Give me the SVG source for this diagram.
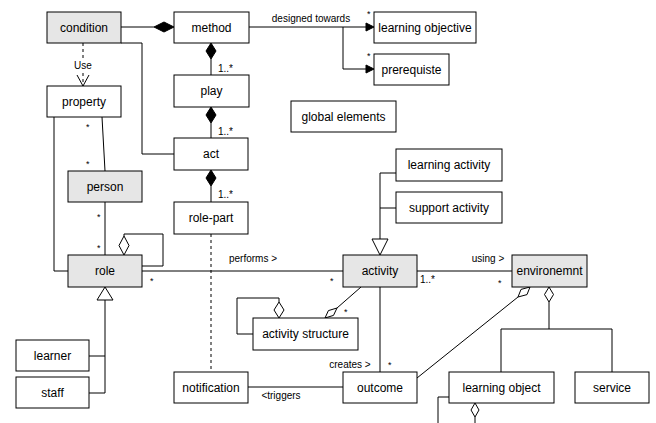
<svg xmlns="http://www.w3.org/2000/svg" width="656" height="423" viewBox="0 0 656 423">
<style>
.n rect{stroke:#000;stroke-width:1;fill:#fff}
.n.g rect{fill:#e6e6e6}
.n text{font-family:"Liberation Sans",Arial,sans-serif;font-size:12px;text-anchor:middle;fill:#000}
.c path,.c line,.c polyline{stroke:#000;stroke-width:1;fill:none}
.c .d{stroke-dasharray:3,3}
.c .fd{fill:#000}
.c .od{fill:#fff}
.c .tri{fill:#fff}
.l{font-family:"Liberation Sans",Arial,sans-serif;font-size:10px;fill:#000}
.m{font-family:"Liberation Sans",Arial,sans-serif;font-size:9px;fill:#000}
</style>
<rect width="656" height="423" fill="#fff"/>
<g class="c" id="connectors">
<!-- condition - method -->
<line x1="121" y1="27" x2="154" y2="27"/>
<path class="fd" d="M154,27 L164,22 L174,27 L164,32 Z"/>
<!-- condition - act -->
<polyline points="121,43 142,43 142,154 174,154"/>
<!-- condition Use property -->
<line class="d" x1="83" y1="43" x2="83" y2="86"/>
<polyline points="77,75 83,86 89,75"/>
<!-- property - role -->
<polyline points="54,117 54,271 68,271"/>
<!-- property - person -->
<line x1="102" y1="117" x2="105" y2="171"/>
<!-- person - role -->
<line x1="105" y1="202" x2="105" y2="255"/>
<!-- role self aggregation -->
<polyline points="142,266 163,266 163,234 124,234 124,236"/>
<path class="od" d="M124,255 L119,245.5 L124,236 L129,245.5 Z"/>
<!-- role generalization -->
<polyline points="89,356 105,356"/>
<polyline points="89,393 105,393 105,300"/>
<path class="tri" d="M105,287 L97,300 L113,300 Z"/>
<!-- method - play -->
<path class="fd" d="M211,43 L206,51 L211,59 L216,51 Z"/>
<line x1="211" y1="59" x2="211" y2="75"/>
<!-- play - act -->
<path class="fd" d="M211,107 L206,115 L211,123 L216,115 Z"/>
<line x1="211" y1="123" x2="211" y2="138"/>
<!-- act - role-part -->
<path class="fd" d="M211,170 L206,178 L211,186 L216,178 Z"/>
<line x1="211" y1="186" x2="211" y2="202"/>
<!-- role-part - notification -->
<line class="d" x1="211" y1="234" x2="211" y2="372"/>
<!-- method - learning objective / prerequisite -->
<line x1="249" y1="27" x2="367" y2="27"/>
<path class="fd" d="M374,27 L366,23 L366,31 Z"/>
<polyline points="343,27 343,69 367,69"/>
<path class="fd" d="M374,69 L366,65 L366,73 Z"/>
<!-- role - activity -->
<line x1="142" y1="271" x2="343" y2="271"/>
<!-- activity generalization -->
<polyline points="396,173 380,173 380,239"/>
<line x1="380" y1="208" x2="396" y2="208"/>
<path class="tri" d="M380,255 L372,239 L388,239 Z"/>
<!-- activity - environment -->
<line x1="417" y1="271" x2="512" y2="271"/>
<!-- activity - activity structure -->
<line x1="361" y1="287" x2="337" y2="308"/>
<path class="od" d="M325,318 L328.4,310.6 L337,308 L333.5,315.4 Z"/>
<!-- activity structure self -->
<polyline points="253,334 237,334 237,298 279,298 279,302"/>
<path class="od" d="M279,318 L274,310 L279,302 L284,310 Z"/>
<!-- activity - outcome -->
<line x1="380" y1="287" x2="380" y2="372"/>
<!-- notification - outcome -->
<line x1="248" y1="387" x2="343" y2="387"/>
<!-- outcome - environment -->
<line x1="417" y1="378" x2="518" y2="297"/>
<path class="od" d="M530,287 L527,294.6 L518,297 L521,289.4 Z"/>
<!-- environment - learning object / service -->
<path class="od" d="M549,287 L544.5,294.5 L549,302 L553.5,294.5 Z"/>
<line x1="549" y1="302" x2="549" y2="329"/>
<polyline points="501,372 501,329 612,329 612,372"/>
<!-- learning object self -->
<polyline points="449,397 438,397 438,423"/>
<path class="od" d="M475,403 L471,410 L475,417 L479,410 Z"/>
<line x1="475" y1="417" x2="475" y2="423"/>
</g>
<g id="labels">
<rect x="72" y="59" width="22" height="12" fill="#fff"/>
<text class="l" x="83" y="69" text-anchor="middle">Use</text>
<text class="l" x="311" y="22" text-anchor="middle">designed towards</text>
<text class="m" x="367" y="17">*</text>
<text class="m" x="367" y="59">*</text>
<text class="l" x="218" y="72">1..*</text>
<text class="l" x="218" y="135">1..*</text>
<text class="l" x="218" y="198">1..*</text>
<text class="m" x="86" y="130">*</text>
<text class="m" x="86" y="167">*</text>
<text class="m" x="97" y="220">*</text>
<text class="m" x="97" y="251">*</text>
<text class="m" x="150" y="284">*</text>
<text class="l" x="253" y="262" text-anchor="middle">performs &gt;</text>
<text class="m" x="330" y="284">*</text>
<text class="l" x="420" y="283">1..*</text>
<text class="l" x="488" y="262" text-anchor="middle">using &gt;</text>
<text class="m" x="498" y="286">*</text>
<text class="m" x="344" y="315">*</text>
<text class="l" x="350" y="368" text-anchor="middle">creates &gt;</text>
<text class="m" x="388" y="368">*</text>
<text class="l" x="281" y="399" text-anchor="middle">&lt;triggers</text>
</g>
<g id="condition" class="n g"><rect x="47" y="12" width="74" height="31"/><text x="84" y="32">condition</text></g>
<g id="method" class="n"><rect x="174" y="12" width="75" height="31"/><text x="211.5" y="32">method</text></g>
<g id="learning-objective" class="n"><rect x="374" y="12" width="102" height="31"/><text x="425" y="32">learning objective</text></g>
<g id="prerequisite" class="n"><rect x="374" y="54" width="75" height="31"/><text x="411.5" y="74">prerequiste</text></g>
<g id="property" class="n"><rect x="47" y="86" width="74" height="31"/><text x="84" y="106">property</text></g>
<g id="play" class="n"><rect x="174" y="75" width="75" height="32"/><text x="211.5" y="95">play</text></g>
<g id="global-elements" class="n"><rect x="291" y="101" width="105" height="31"/><text x="343.5" y="121">global elements</text></g>
<g id="act" class="n"><rect x="174" y="138" width="74" height="32"/><text x="211" y="158">act</text></g>
<g id="person" class="n g"><rect x="68" y="171" width="74" height="31"/><text x="105" y="191">person</text></g>
<g id="learning-activity" class="n"><rect x="396" y="149" width="106" height="32"/><text x="449" y="169">learning activity</text></g>
<g id="support-activity" class="n"><rect x="396" y="192" width="106" height="31"/><text x="449" y="212">support activity</text></g>
<g id="role-part" class="n"><rect x="174" y="202" width="74" height="32"/><text x="211" y="222">role-part</text></g>
<g id="role" class="n g"><rect x="68" y="255" width="74" height="32"/><text x="105" y="275">role</text></g>
<g id="activity" class="n g"><rect x="343" y="255" width="74" height="32"/><text x="380" y="275">activity</text></g>
<g id="environment" class="n g"><rect x="512" y="255" width="75" height="32"/><text x="549.5" y="275">environemnt</text></g>
<g id="activity-structure" class="n"><rect x="253" y="318" width="105" height="32"/><text x="305.5" y="338">activity structure</text></g>
<g id="learner" class="n"><rect x="16" y="340" width="73" height="31"/><text x="52.5" y="360">learner</text></g>
<g id="staff" class="n"><rect x="16" y="377" width="73" height="31"/><text x="52.5" y="397">staff</text></g>
<g id="notification" class="n"><rect x="174" y="372" width="74" height="31"/><text x="211" y="392">notification</text></g>
<g id="outcome" class="n"><rect x="343" y="372" width="74" height="31"/><text x="380" y="392">outcome</text></g>
<g id="learning-object" class="n"><rect x="449" y="372" width="105" height="31"/><text x="501.5" y="392">learning object</text></g>
<g id="service" class="n"><rect x="575" y="372" width="74" height="31"/><text x="612" y="392">service</text></g>
</svg>
